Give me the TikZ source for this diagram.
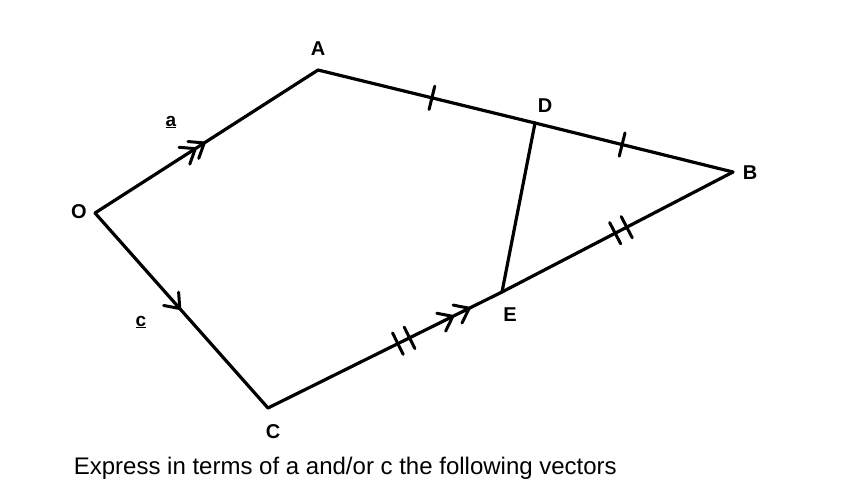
\documentclass[tikz,border=0pt]{standalone}
\usepackage{fontspec}
\setmainfont{Liberation Sans}
\usetikzlibrary{decorations.markings}
\begin{document}
\begin{tikzpicture}[x=1pt,y=-1pt,
  edge/.style={line width=3.2pt,line cap=round,line join=round},
  lbl/.style={font=\fontsize{20}{20}\selectfont\bfseries,inner sep=0pt},
  vlbl/.style={font=\fontsize{19}{19}\selectfont\bfseries,inner sep=0pt},
  chevmark/.style={line width=3pt,line cap=round,line join=round},
  tickmark/.style={line width=3pt,line cap=round}
]
\clip (0,0) rectangle (861,480);
\fill[white] (0,0) rectangle (861,480);
\coordinate (O) at (95,213);
\coordinate (A) at (318,70);
\coordinate (D) at (535,123);
\coordinate (B) at (733,172);
\coordinate (E) at (502,292);
\coordinate (C) at (268,408);

\def\chevron{\draw[chevmark] (-13pt,10pt) -- (0,0) -- (-13pt,-10pt);}
\def\tickm{\draw[tickmark] (0,-12pt) -- (0,12pt);}

\draw[edge,postaction={decorate,decoration={markings,
   mark=at position 0.45 with {\chevron},
   mark=at position 0.49 with {\chevron}}}] (O) -- (A);
\draw[edge,postaction={decorate,decoration={markings,
   mark=at position 0.525 with {\tickm}}}] (A) -- (D);
\draw[edge,postaction={decorate,decoration={markings,
   mark=at position 0.44 with {\tickm}}}] (D) -- (B);
\draw[edge,postaction={decorate,decoration={markings,
   mark=at position 0.49 with {\tickm},
   mark=at position 0.54 with {\tickm}}}] (E) -- (B);
\draw[edge,postaction={decorate,decoration={markings,
   mark=at position 0.555 with {\tickm},
   mark=at position 0.605 with {\tickm},
   mark=at position 0.79 with {\chevron},
   mark=at position 0.86 with {\chevron}}}] (C) -- (E);
\draw[edge,postaction={decorate,decoration={markings,
   mark=at position 0.49 with {\chevron}}}] (O) -- (C);
\draw[edge] (D) -- (E);

\node[lbl] (lA) at (318,49) {A};
\node[lbl] (lD) at (545,106) {D};
\node[lbl] (lB) at (750,173) {B};
\node[lbl] (lO) at (79,212) {O};
\node[lbl] (lE) at (510,315) {E};
\node[lbl] (lC) at (273,432) {C};
\node[vlbl] (la) at (171,122) {\underline{a}};
\node[vlbl] (lc) at (141,322) {\underline{c}};
\node[font=\fontsize{24}{24}\selectfont,anchor=base east,inner sep=0pt] (txt) at (617,474) {Express in terms of a and/or c the following vectors};
\end{tikzpicture}
\end{document}
